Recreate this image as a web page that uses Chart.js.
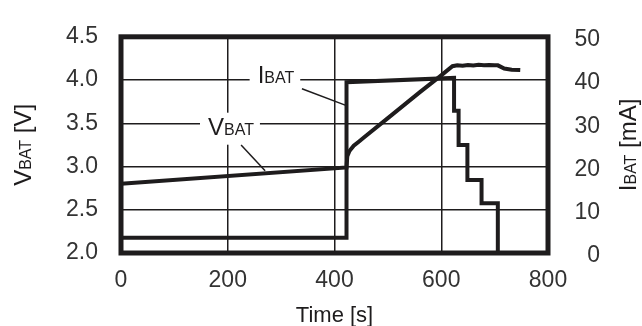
<!DOCTYPE html>
<html>
<head>
<meta charset="utf-8">
<script src="https://cdn.jsdelivr.net/npm/chart.js@4.4.1/dist/chart.umd.min.js"></script>
<style>
  html, body { margin: 0; padding: 0; background: #fff; }
</style>
</head>
<body>
<canvas id="myChart" width="642" height="326"></canvas>
<script>
// battery voltage curve [s, V]
let vbatTime = [0, 422.5, 424, 428, 436, 446, 455, 500, 560, 597, 621, 630, 640, 650, 660, 670, 680, 690, 700, 706, 718, 732, 748];
let vbatValue = [2.80, 2.99, 3.12, 3.18, 3.24, 3.29, 3.335, 3.56, 3.86, 4.04, 4.16, 4.17, 4.165, 4.175, 4.168, 4.176, 4.17, 4.175, 4.172, 4.17, 4.133, 4.12, 4.115];
// battery current [s, mA]
let ibatTime = [0, 422.5, 422.5, 624, 624, 632.5, 632.5, 649, 649, 675.5, 675.5, 706, 706];
let ibatValue = [3.5, 3.5, 39.5, 40.5, 32.9, 32.9, 25.0, 25.0, 16.9, 16.9, 11.5, 11.5, 0];
// callout leader lines (on the voltage scale)
let leaderIbatTime = [339, 420];
let leaderIbatValue = [3.90, 3.71];
let leaderVbatTime = [225, 270];
let leaderVbatValue = [3.25, 2.95];
// callout texts: left edge time, baseline voltage
let calloutMain = ['I', 'V'];
let calloutSub = ['BAT', 'BAT'];
let calloutTime = [256, 163];
let calloutVolt = [3.963, 3.368];

let ink = '#1e1c1d';
let fontFam = "'Liberation Sans', Arial, Helvetica, sans-serif";

function pts(xs, ys){
  let out = [];
  for (let i = 0; i < xs.length; i++) {
    out.push({x: xs[i], y: ys[i]});
  }
  return out;
}

function drawParts(ctx, parts, x, y, align){
  let w = 0;
  for (let p of parts) {
    ctx.font = p.size + 'px ' + fontFam;
    w += ctx.measureText(p.t).width;
  }
  let cx = align === 'center' ? x - w / 2 : x;
  ctx.textAlign = 'left';
  ctx.textBaseline = 'alphabetic';
  for (let p of parts) {
    ctx.font = p.size + 'px ' + fontFam;
    ctx.fillText(p.t, cx, y);
    cx += ctx.measureText(p.t).width;
  }
  return w;
}

let callouts = {
  id: 'callouts',
  beforeDatasetsDraw(chart){
    let ctx = chart.ctx;
    let sx = chart.scales.x;
    let sy = chart.scales.y;
    ctx.save();
    for (let i = 0; i < calloutMain.length; i++) {
      let px = sx.getPixelForValue(calloutTime[i]);
      let py = sy.getPixelForValue(calloutVolt[i]);
      let parts = [{t: calloutMain[i], size: 24}, {t: calloutSub[i], size: 16}];
      ctx.font = '24px ' + fontFam;
      let w = ctx.measureText(calloutMain[i]).width;
      ctx.font = '16px ' + fontFam;
      w += ctx.measureText(calloutSub[i]).width;
      ctx.fillStyle = '#fff';
      ctx.fillRect(px - 8, py - 22, w + 14, 32);
      ctx.fillStyle = ink;
      drawParts(ctx, parts, px, py, 'left');
    }
    ctx.restore();
  },
  afterDatasetsDraw(chart){
    let ctx = chart.ctx;
    let a = chart.chartArea;
    ctx.save();
    ctx.strokeStyle = ink;
    ctx.lineWidth = 5;
    ctx.strokeRect(a.left, a.top, a.right - a.left, a.bottom - a.top);
    ctx.restore();
  },
  afterDraw(chart){
    let ctx = chart.ctx;
    let a = chart.chartArea;
    let midY = (a.top + a.bottom) / 2;
    ctx.save();
    ctx.fillStyle = ink;
    // left title
    ctx.save();
    ctx.translate(31, midY);
    ctx.rotate(-Math.PI / 2);
    drawParts(ctx, [{t: 'V', size: 24}, {t: 'BAT', size: 16}, {t: ' [V]', size: 24}], 0, 0, 'center');
    ctx.restore();
    // right title
    ctx.save();
    ctx.translate(636, midY);
    ctx.rotate(-Math.PI / 2);
    drawParts(ctx, [{t: 'I', size: 24}, {t: 'BAT', size: 16}, {t: ' [mA]', size: 24}], 0, 0, 'center');
    ctx.restore();
    // bottom title
    drawParts(ctx, [{t: 'Time [s]', size: 22}], (a.left + a.right) / 2, 322, 'center');
    ctx.restore();
  }
};

let tickFont = {family: fontFam, size: 23};

let ctx = document.getElementById('myChart').getContext('2d');
let myChart = new Chart(ctx, {
  type: 'scatter',
  data: {
    datasets: [{
      label: 'VBAT',
      data: pts(vbatTime, vbatValue),
      yAxisID: 'y',
      showLine: true,
      borderColor: ink,
      borderWidth: 4,
      pointRadius: 0,
      borderJoinStyle: 'miter'
    },{
      label: 'IBAT',
      data: pts(ibatTime, ibatValue),
      yAxisID: 'y1',
      showLine: true,
      borderColor: ink,
      borderWidth: 4,
      pointRadius: 0,
      borderJoinStyle: 'miter'
    },{
      label: 'leader I',
      data: pts(leaderIbatTime, leaderIbatValue),
      yAxisID: 'y',
      showLine: true,
      borderColor: ink,
      borderWidth: 1.5,
      pointRadius: 0
    },{
      label: 'leader V',
      data: pts(leaderVbatTime, leaderVbatValue),
      yAxisID: 'y',
      showLine: true,
      borderColor: ink,
      borderWidth: 1.5,
      pointRadius: 0
    }]
  },
  options: {
    responsive: false,
    animation: false,
    layout: {padding: {top: 20, right: 42, left: 0, bottom: 0}},
    plugins: {
      legend: {display: false},
      tooltip: {enabled: false}
    },
    scales: {
      x: {
        type: 'linear',
        position: 'bottom',
        min: 0,
        max: 800,
        ticks: {stepSize: 200, padding: 14, font: tickFont, color: '#333', maxRotation: 0},
        grid: {color: ink, lineWidth: 1.5, drawTicks: false},
        border: {display: false},
        afterFit: s => { s.height = 73; }
      },
      y: {
        position: 'left',
        min: 2,
        max: 4.5,
        ticks: {stepSize: 0.5, padding: 23, font: tickFont, color: '#333', callback: v => v.toFixed(1)},
        grid: {color: ink, lineWidth: 1.5, drawTicks: false},
        border: {display: false},
        afterFit: s => { s.width = 121; }
      },
      y1: {
        position: 'right',
        min: 0,
        max: 50,
        ticks: {stepSize: 10, padding: 0, crossAlign: 'far', labelOffset: 3, font: tickFont, color: '#333'},
        grid: {display: false, drawTicks: false},
        border: {display: false},
        afterFit: s => { s.width = 52; }
      }
    }
  },
  plugins: [callouts]
});
</script>
</body>
</html>
